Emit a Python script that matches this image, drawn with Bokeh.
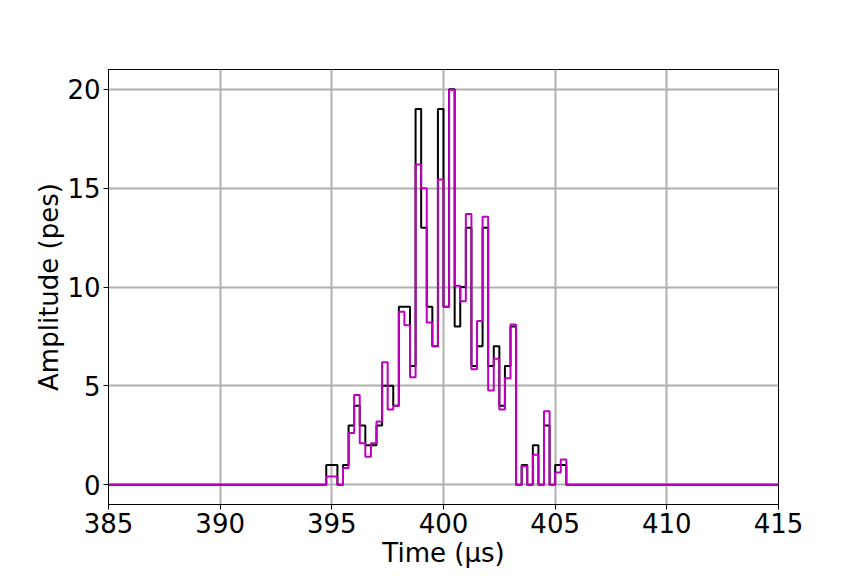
import numpy as np
from bokeh.plotting import figure
from bokeh.models import Range1d, FixedTicker
from bokeh.embed import file_html
from bokeh.resources import INLINE

# Bin starts (µs), bin width 0.25 µs
bin_starts = [394.75, 395.0, 395.25, 395.5, 395.75, 396.0, 396.25, 396.5, 396.75,
              397.0, 397.25, 397.5, 397.75, 398.0, 398.25, 398.5, 398.75, 399.0,
              399.25, 399.5, 399.75, 400.0, 400.25, 400.5, 400.75, 401.0, 401.25,
              401.5, 401.75, 402.0, 402.25, 402.5, 402.75, 403.0, 403.25, 403.5,
              403.75, 404.0, 404.25, 404.5, 404.75, 405.0, 405.25]
bin_end = 405.5
x_start = 385.0
x_end = 415.0

black_vals = [1, 1, 0, 1, 3, 4, 3, 2, 2,
              3, 5, 5, 4, 9, 9, 6, 19, 13,
              9, 7, 19, 9, 20, 8, 10, 13, 6,
              7, 13, 6, 7, 4, 6, 8, 0, 1,
              0, 2, 0, 3, 0, 1, 1]

magenta_vals = [0.42, 0.42, 0.0, 0.85, 2.62, 4.54, 2.1, 1.42, 2.1,
                3.2, 6.2, 3.8, 4.0, 8.75, 8.07, 5.44, 16.2, 15.0,
                8.2, 7.0, 15.44, 9.0, 19.97, 10.06, 9.28, 13.69, 5.84,
                8.28, 13.55, 4.76, 6.37, 3.8, 5.39, 8.1, 0.0, 0.93,
                0.0, 1.52, 0.0, 3.72, 0.0, 0.62, 1.27]

x_ticks = [385, 390, 395, 400, 405, 410, 415]
y_ticks = [0, 5, 10, 15, 20]

FONT = "DejaVu Sans"

p = figure(frame_width=670, frame_height=435, output_backend="svg",
           toolbar_location=None,
           x_range=Range1d(385, 415), y_range=Range1d(-1, 21),
           min_border_left=108, min_border_right=62,
           min_border_top=69, min_border_bottom=52)
p.background_fill_color = "white"
p.border_fill_color = "white"
p.outline_line_color = "black"
p.outline_line_width = 1

xs = [x_start] + bin_starts + [bin_end, x_end]
yk = [0] + black_vals + [0, 0]
ym = [0] + magenta_vals + [0, 0]

p.step(xs, yk, mode="after", line_color="black", line_width=2)
p.step(xs, ym, mode="after", line_color="#bf00bf", line_width=2)

for ax in (p.xaxis[0], p.yaxis[0]):
    ax.major_label_text_font = FONT
    ax.major_label_text_font_size = "26px"
    ax.major_label_text_color = "black"
    ax.axis_label_text_font = FONT
    ax.axis_label_text_font_size = "26px"
    ax.axis_label_text_font_style = "normal"
    ax.axis_label_text_color = "black"
    ax.axis_line_color = "black"
    ax.axis_line_width = 1
    ax.major_tick_line_color = "black"
    ax.major_tick_line_width = 1
    ax.major_tick_out = 5
    ax.major_tick_in = 0
    ax.minor_tick_line_color = None

p.xaxis[0].ticker = FixedTicker(ticks=x_ticks)
p.yaxis[0].ticker = FixedTicker(ticks=y_ticks)
p.xaxis[0].axis_label = "Time (μs)"
p.yaxis[0].axis_label = "Amplitude (pes)"
p.xaxis[0].major_label_standoff = 3
p.yaxis[0].major_label_standoff = 3
p.xaxis[0].axis_label_standoff = 2
p.yaxis[0].axis_label_standoff = 0

p.xgrid.grid_line_color = "#b0b0b0"
p.ygrid.grid_line_color = "#b0b0b0"
p.xgrid.grid_line_width = 2
p.ygrid.grid_line_width = 2

open("out.html", "w").write(file_html(p, INLINE))
